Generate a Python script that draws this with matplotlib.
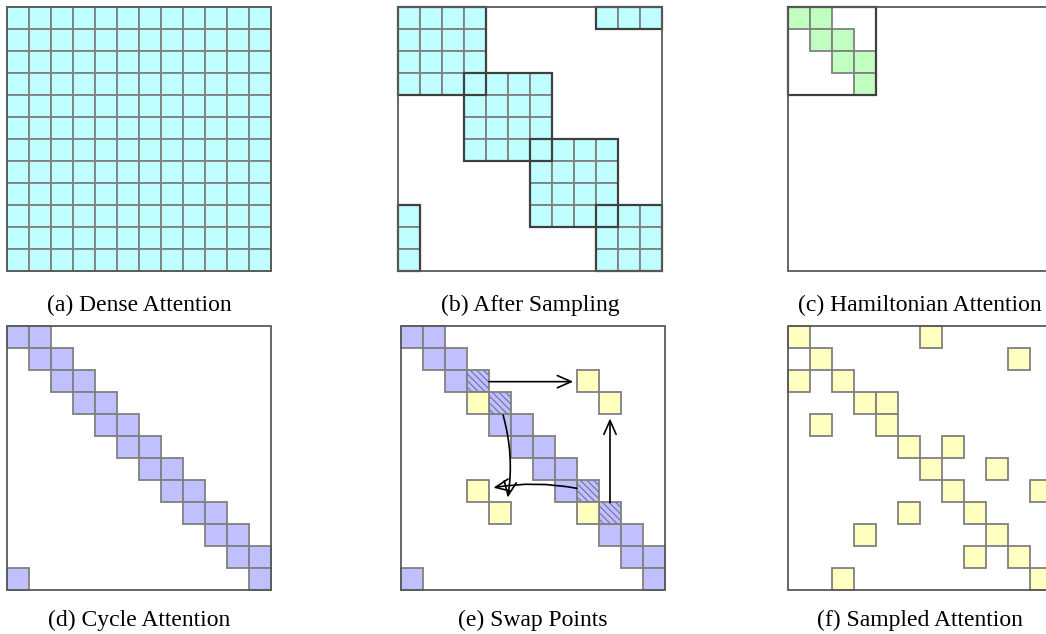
import matplotlib
matplotlib.use("Agg")
import matplotlib.pyplot as plt
from matplotlib.patches import Rectangle, FancyArrowPatch

W, H = 1046, 634
N = 12
CELL = 22

CYAN = '#c0ffff'
GREEN = '#c0ffc0'
BLUE = '#c0c0ff'
YELLOW = '#ffffc0'
EDGE = '#808080'
BLOCK = '#404040'
FRAME = '#5a5a5a'
HATCH = '#7070a0'

# (a) dense: every cell
dense_cells = [(r, c) for r in range(N) for c in range(N)]

# (b) blocks kept after sampling: (row, col, nrows, ncols)
sampling_blocks = [(0, 0, 4, 4), (3, 3, 4, 4), (6, 6, 4, 4), (9, 9, 3, 3),
                   (0, 9, 1, 3), (9, 0, 3, 1)]

# (c) hamiltonian path inside the first block
ham_cells = [(0, 0), (0, 1), (1, 1), (1, 2), (2, 2), (2, 3), (3, 3)]
ham_blocks = [(0, 0, 4, 4)]

# (d) cycle
cycle_cells = [(0, 0), (0, 1), (1, 1), (1, 2), (2, 2), (2, 3), (3, 3), (3, 4),
               (4, 4), (4, 5), (5, 5), (5, 6), (6, 6), (6, 7), (7, 7), (7, 8),
               (8, 8), (8, 9), (9, 9), (9, 10), (10, 10), (10, 11), (11, 11),
               (11, 0)]

# (e) swap points
swap_blue = [(0, 0), (0, 1), (1, 1), (1, 2), (2, 2), (4, 4), (4, 5), (5, 5),
             (5, 6), (6, 6), (6, 7), (7, 7), (9, 9), (9, 10), (10, 10),
             (10, 11), (11, 11), (11, 0)]
swap_hatched = [(2, 3), (3, 4), (7, 8), (8, 9)]
swap_yellow = [(3, 3), (8, 8), (2, 8), (3, 9), (7, 3), (8, 4)]
# x0, y0, x1, y1, curvature (cell units)
swap_arrows = [(4.0, 2.53, 7.83, 2.53, 0.0),
               (4.64, 4.05, 4.85, 7.8, -0.11),
               (8.0, 7.38, 4.2, 7.35, 0.09),
               (9.5, 8.03, 9.5, 4.2, 0.0)]

# (f) sampled attention
sampled_cells = [(0, 0), (0, 6), (1, 1), (1, 10), (2, 0), (2, 2), (3, 3),
                 (3, 4), (4, 1), (4, 4), (5, 5), (5, 7), (6, 6), (6, 9),
                 (7, 7), (7, 11), (8, 5), (8, 8), (9, 3), (9, 9), (10, 8),
                 (10, 10), (11, 2), (11, 11)]

captions = ['(a) Dense Attention', '(b) After Sampling',
            '(c) Hamiltonian Attention', '(d) Cycle Attention',
            '(e) Swap Points', '(f) Sampled Attention']

# panel positions in pixels (left, top)
panel_pos = [(7, 7), (398, 7), (788, 7), (7, 326), (401, 326), (788, 326)]
caption_base = [311, 311, 311, 626, 626, 626]

fig = plt.figure(figsize=(W / 100, H / 100), dpi=100)
plt.rcParams['hatch.linewidth'] = 0.8


def make_ax(left, top):
    size = N * CELL
    ax = fig.add_axes([left / W, 1 - (top + size) / H, size / W, size / H])
    ax.set_xlim(0, N)
    ax.set_ylim(N, 0)
    ax.axis('off')
    return ax


def draw_cells(ax, cells, color, hatch=None):
    for r, c in cells:
        if hatch:
            ax.add_patch(Rectangle((c, r), 1, 1, facecolor=color, edgecolor=HATCH,
                                   hatch=hatch, lw=0, clip_on=False))
            fc = 'none'
        else:
            fc = color
        ax.add_patch(Rectangle((c, r), 1, 1, facecolor=fc, edgecolor=EDGE,
                               lw=1.3, clip_on=False))


def draw_blocks(ax, blocks, color=None):
    for r, c, h, w in blocks:
        if color:
            cells = [(r + i, c + j) for i in range(h) for j in range(w)]
            draw_cells(ax, cells, color)
    for r, c, h, w in blocks:
        ax.add_patch(Rectangle((c, r), w, h, facecolor='none', edgecolor=BLOCK,
                               lw=1.6, clip_on=False, zorder=3))


def frame(ax):
    ax.add_patch(Rectangle((0, 0), N, N, facecolor='none', edgecolor=FRAME,
                           lw=1.3, clip_on=False, zorder=4))


axes = [make_ax(l, t) for l, t in panel_pos]

# (a)
draw_cells(axes[0], dense_cells, CYAN)
frame(axes[0])

# (b)
draw_blocks(axes[1], sampling_blocks, CYAN)
frame(axes[1])

# (c)
draw_cells(axes[2], ham_cells, GREEN)
draw_blocks(axes[2], ham_blocks)
frame(axes[2])

# (d)
draw_cells(axes[3], cycle_cells, BLUE)
frame(axes[3])

# (e)
ax = axes[4]
draw_cells(ax, swap_blue, BLUE)
draw_cells(ax, swap_hatched, BLUE, hatch='\\\\\\\\\\')
draw_cells(ax, swap_yellow, YELLOW)
for x0, y0, x1, y1, rad in swap_arrows:
    ax.add_patch(FancyArrowPatch((x0, y0), (x1, y1),
                                 arrowstyle='->,head_length=0.5,head_width=0.22',
                                 connectionstyle=f'arc3,rad={rad}',
                                 mutation_scale=20, lw=1.2, color='black',
                                 shrinkA=0, shrinkB=0, zorder=5))
frame(ax)

# (f)
draw_cells(axes[5], sampled_cells, YELLOW)
frame(axes[5])

for (l, t), cap, yb in zip(panel_pos, captions, caption_base):
    fig.text((l + N * CELL / 2) / W, 1 - yb / H, cap, ha='center', va='baseline',
             fontsize=17, family='Liberation Serif')

fig.savefig('out.png', dpi=100)
